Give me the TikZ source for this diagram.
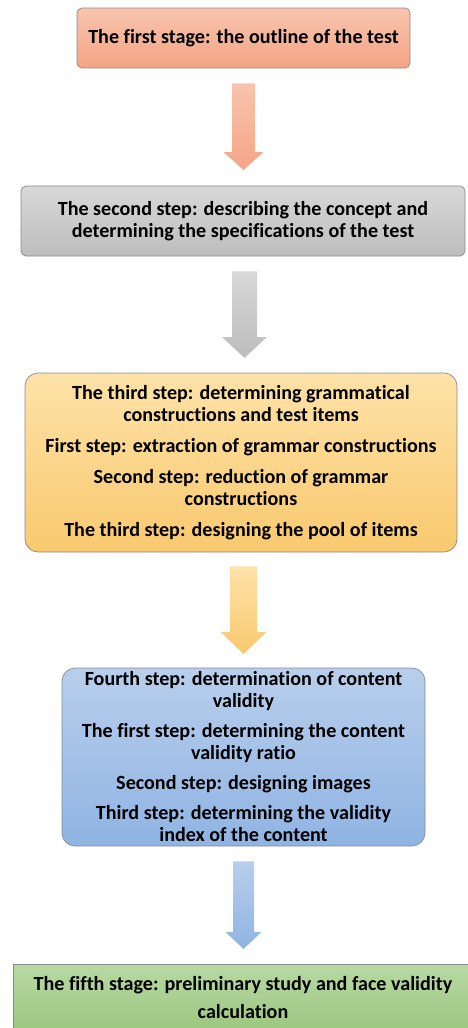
\documentclass[tikz,border=0pt]{standalone}
\usepackage{fontspec}
\setmainfont{Carlito}[Ligatures=CommonOff]
\usetikzlibrary{calc}
\definecolor{oA}{HTML}{F8C4AE}\definecolor{oB}{HTML}{F4A585}
\definecolor{gA}{HTML}{D8D8D8}\definecolor{gB}{HTML}{BDBDBD}
\definecolor{yA}{HTML}{FEE2A8}\definecolor{yB}{HTML}{F9C96E}
\definecolor{bA}{HTML}{B8CEEC}\definecolor{bB}{HTML}{8FB4E3}
\definecolor{nA}{HTML}{B8D9A4}\definecolor{nB}{HTML}{9CC67F}
\definecolor{edge}{HTML}{8A8A8A}
\tikzset{
  stagebox/.style={draw=edge, line width=0.7pt, align=center, inner sep=0pt,
    font=\fontsize{20.1}{22}\selectfont\bfseries},
}
\newcommand\blockarr[6]{\shade[#6] ($(#1)+(-#3,0)$) -- ($(#1)+(#3,0)$) -- ($(#2)+(#3,-#5)$) -- ($(#2)+(#4,-#5)$) -- (#2) -- ($(#2)+(-#4,-#5)$) -- ($(#2)+(-#3,-#5)$) -- cycle;}
\begin{document}
\begin{tikzpicture}[x=1pt,y=-1pt]
\useasboundingbox (0,0) rectangle (467,1028);
\node[stagebox, rounded corners=5pt, top color=oA, bottom color=oB, minimum width=333pt, minimum height=60pt] (b1) at (243.5,38) {The first stage: the outline of the test};
\node[stagebox, rounded corners=5pt, top color=gA, bottom color=gB, minimum width=444pt, minimum height=70pt] (b2) at (243,221) {The second step: describing the concept and\\determining the specifications of the test};
\node[stagebox, rounded corners=13pt, top color=yA, bottom color=yB, minimum width=432pt, minimum height=179pt] (b3) at (241,462.5) {The third step: determining grammatical\\constructions and test items\\[9pt]First step: extraction of grammar constructions\\[9pt]Second step: reduction of grammar\\constructions\\[9pt]The third step: designing the pool of items};
\node[stagebox, rounded corners=13pt, top color=bA, bottom color=bB, minimum width=363pt, minimum height=178pt] (b4) at (243.5,757) {Fourth step: determination of content\\validity\\[8pt]The first step: determining the content\\validity ratio\\[8pt]Second step: designing images\\[8pt]Third step: determining the validity\\index of the content};
\node[stagebox, top color=nA, bottom color=nB, minimum width=460pt, minimum height=68pt, font=\fontsize{20.1}{28}\selectfont\bfseries] (b5) at (243,998) {The fifth stage: preliminary study and face validity\\calculation};
\coordinate (a1t) at ($(b1.south)+(0,15)$); \coordinate (a1e) at (243.5,170);
\coordinate (a2t) at ($(b2.south)+(1.5,15)$); \coordinate (a2e) at (244.5,358);
\coordinate (a3t) at ($(b3.south)+(2.5,14)$); \coordinate (a3e) at (243.5,654);
\coordinate (a4t) at ($(b4.south)+(0,15)$); \coordinate (a4e) at (243.5,949);
\blockarr{a1t}{a1e}{11.5}{20}{18}{top color=oA, bottom color=oB}
\blockarr{a2t}{a2e}{12.5}{22.5}{21}{top color=gA, bottom color=gB}
\blockarr{a3t}{a3e}{13.5}{23}{22}{top color=yA, bottom color=yB}
\blockarr{a4t}{a4e}{10.5}{18}{17}{top color=bA, bottom color=bB}
\end{tikzpicture}
\end{document}
